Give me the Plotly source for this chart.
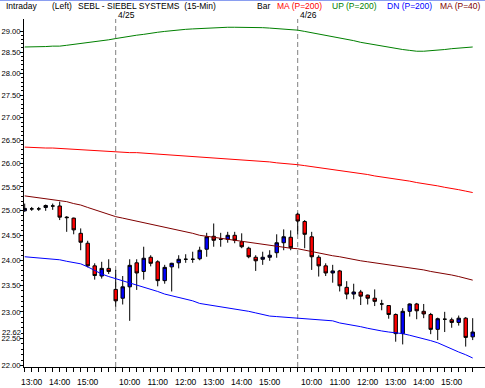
import math
import plotly.graph_objects as go

# ---------------- data ----------------
session = [f"{h:02d}:{m:02d}" for h in range(9, 16) for m in (0, 15, 30, 45)][2:]  # 09:30 .. 15:45
day_names = ["4/24", "4/25", "4/26"]
bar_times = session[-13:] + session + session
bar_days = [day_names[0]] * 13 + [day_names[1]] * 26 + [day_names[2]] * 26

opens = [25.00, 25.04, 25.04, 25.07, 25.10, 25.10, 24.87, 24.85, 24.54, 24.34, 23.89, 23.69, 23.84,
         23.43, 23.26, 23.48, 23.95, 23.78, 24.06, 23.97, 23.60, 23.87, 23.95, 24.02, 24.02, 24.03,
         24.22, 24.48, 24.42, 24.42, 24.50, 24.37, 24.24, 24.06, 24.02, 24.06, 24.15, 24.35, 24.46,
         24.93, 24.78, 24.47, 24.06, 23.89, 23.75, 23.79, 23.47, 23.34, 23.38, 23.32, 23.26, 23.15,
         23.12, 22.95, 22.59, 23.01, 23.15, 23.01, 22.95, 22.67, 22.86, 22.85, 22.80, 22.88, 22.53]
highs = [25.15, 25.08, 25.08, 25.13, 25.15, 25.19, 24.89, 24.86, 24.64, 24.39, 23.94, 23.97, 24.02,
         23.81, 23.69, 24.02, 24.02, 24.27, 24.10, 24.00, 23.91, 23.95, 24.10, 24.12, 24.17, 24.27,
         24.55, 24.74, 24.55, 24.57, 24.57, 24.54, 24.27, 24.10, 24.17, 24.20, 24.52, 24.62, 24.60,
         24.96, 24.81, 24.57, 24.10, 23.94, 23.91, 23.81, 23.59, 23.54, 23.42, 23.33, 23.43, 23.23,
         23.13, 22.97, 23.07, 23.16, 23.17, 23.15, 22.98, 22.89, 23.00, 22.89, 22.93, 22.90, 22.88]
lows = [24.98, 25.00, 25.00, 25.00, 25.02, 24.81, 24.57, 24.52, 24.20, 23.86, 23.62, 23.64, 23.73,
        23.10, 23.14, 22.83, 23.42, 23.62, 23.88, 23.49, 23.54, 23.39, 23.84, 23.95, 23.95, 24.00,
        24.07, 24.27, 24.27, 24.35, 24.34, 24.24, 24.04, 23.79, 23.91, 23.99, 24.05, 24.20, 24.20,
        24.52, 24.24, 23.81, 23.68, 23.69, 23.56, 23.39, 23.24, 23.24, 23.13, 23.14, 23.11, 23.03,
        22.87, 22.44, 22.39, 22.91, 22.86, 22.88, 22.58, 22.47, 22.62, 22.70, 22.74, 22.35, 22.47]
closes = [25.05, 25.04, 25.04, 25.11, 25.10, 24.87, 24.86, 24.61, 24.36, 23.89, 23.70, 23.84, 23.78,
          23.21, 23.48, 23.90, 23.75, 24.04, 23.94, 23.60, 23.86, 23.94, 24.02, 24.02, 24.02, 24.20,
          24.47, 24.40, 24.42, 24.50, 24.40, 24.27, 24.07, 23.99, 24.06, 24.10, 24.35, 24.47, 24.25,
          24.79, 24.52, 24.07, 23.89, 23.75, 23.79, 23.50, 23.34, 23.38, 23.30, 23.26, 23.20, 23.15,
          22.95, 22.59, 23.01, 23.15, 23.02, 22.96, 22.67, 22.87, 22.86, 22.80, 22.88, 22.52, 22.62]

ma200 = [26.35, 26.34, 26.34, 26.33, 26.33, 26.32, 26.31, 26.30, 26.30, 26.29, 26.28, 26.27, 26.26,
         26.25, 26.24, 26.23, 26.23, 26.22, 26.21, 26.20, 26.19, 26.18, 26.17, 26.16, 26.15, 26.14,
         26.13, 26.12, 26.11, 26.10, 26.09, 26.08, 26.07, 26.05, 26.04, 26.03, 26.01, 26.00, 25.98,
         25.97, 25.95, 25.93, 25.91, 25.89, 25.87, 25.85, 25.82, 25.80, 25.78, 25.76, 25.73, 25.71,
         25.69, 25.66, 25.64, 25.62, 25.59, 25.57, 25.54, 25.52, 25.49, 25.47, 25.44, 25.41, 25.38]
up200 = [28.62, 28.62, 28.63, 28.63, 28.64, 28.64, 28.66, 28.68, 28.70, 28.72, 28.74, 28.76, 28.79,
         28.82, 28.85, 28.87, 28.90, 28.92, 28.95, 28.97, 28.99, 29.01, 29.02, 29.04, 29.05, 29.06,
         29.07, 29.08, 29.08, 29.09, 29.09, 29.09, 29.09, 29.08, 29.08, 29.07, 29.06, 29.05, 29.04,
         29.02, 28.99, 28.96, 28.93, 28.90, 28.87, 28.84, 28.80, 28.77, 28.73, 28.70, 28.67, 28.64,
         28.61, 28.58, 28.56, 28.54, 28.52, 28.52, 28.53, 28.55, 28.56, 28.58, 28.59, 28.60, 28.62]
dn200 = [24.07, 24.06, 24.05, 24.04, 24.03, 24.01, 23.98, 23.96, 23.93, 23.87, 23.80, 23.73, 23.68,
         23.64, 23.60, 23.56, 23.52, 23.48, 23.43, 23.39, 23.34, 23.31, 23.28, 23.25, 23.21, 23.16,
         23.14, 23.12, 23.10, 23.07, 23.05, 23.03, 23.01, 22.98, 22.95, 22.92, 22.91, 22.90, 22.89,
         22.88, 22.87, 22.86, 22.86, 22.85, 22.83, 22.79, 22.77, 22.75, 22.72, 22.69, 22.66, 22.64,
         22.62, 22.61, 22.59, 22.56, 22.53, 22.50, 22.46, 22.42, 22.36, 22.31, 22.25, 22.20, 22.14]
ma40 = [25.31, 25.29, 25.27, 25.25, 25.23, 25.21, 25.19, 25.15, 25.12, 25.07, 25.02, 24.98, 24.93,
        24.88, 24.85, 24.82, 24.79, 24.76, 24.73, 24.70, 24.67, 24.64, 24.61, 24.58, 24.54, 24.50,
        24.48, 24.46, 24.44, 24.42, 24.40, 24.38, 24.35, 24.33, 24.31, 24.29, 24.27, 24.25, 24.24,
        24.23, 24.20, 24.17, 24.15, 24.12, 24.09, 24.07, 24.04, 24.01, 23.99, 23.97, 23.95, 23.93,
        23.91, 23.89, 23.87, 23.86, 23.84, 23.81, 23.78, 23.76, 23.74, 23.71, 23.68, 23.65, 23.61]

price_ticks = [22.0, 22.5, 23.0, 23.5, 24.0, 24.5, 25.0, 25.5, 26.0, 26.5, 27.0, 27.5, 28.0, 28.5, 29.0]
minor_ticks = [round(22.0 + 0.1 * k, 1) for k in range(71)]
last_price = 22.62

title_parts = [("Intraday", "#000000"), ("(Left)", "#000000"),
               ("SEBL - SIEBEL SYSTEMS&nbsp;&nbsp;(15-Min)", "#000000"), ("Bar", "#000000"),
               ("MA (P=200)", "#ff0000"), ("UP (P=200)", "#008000"),
               ("DN (P=200)", "#0000ff"), ("MA (P=40)", "#800000")]
title_px = [4, 50, 76, 255, 275, 330, 385, 438]

# ---------------- figure ----------------
W, H = 485, 388
ML, MR, MT, MB = 24, 0, 19, 21
PW, PH = W - ML - MR, H - MT - MB
FONT = "Liberation Sans, Arial, sans-serif"
FS = 8.5
FSY = 7.6

x = list(range(len(bar_times)))

fig = go.Figure()
for vals, col in [(up200, "#008000"), (ma200, "#ff0000"), (ma40, "#800000"), (dn200, "#0000ff")]:
    fig.add_trace(go.Scatter(x=x, y=vals, mode="lines", line=dict(color=col, width=1),
                             hoverinfo="skip", showlegend=False))

fig.add_trace(go.Candlestick(
    x=x, open=opens, high=highs, low=lows, close=closes,
    increasing=dict(fillcolor="#0000ff", line=dict(color="#000000", width=1)),
    decreasing=dict(fillcolor="#ff0000", line=dict(color="#000000", width=1)),
    whiskerwidth=0, showlegend=False))

# day separators + date labels
for i in range(1, len(x)):
    if bar_days[i] != bar_days[i - 1]:
        fig.add_shape(type="line", xref="x", yref="paper", x0=i, x1=i, y0=0, y1=1,
                      line=dict(color="#808080", width=1, dash="5px,3px"), layer="below")
        fig.add_annotation(x=i, xref="x", y=(H - MB - 15) / PH, yref="paper", text=bar_days[i],
                           showarrow=False, xanchor="left", yanchor="middle", xshift=0,
                           font=dict(family=FONT, size=FS, color="#000000"))

# header texts
for (txt, col), px in zip(title_parts, title_px):
    fig.add_annotation(x=(px - ML) / PW, xref="paper", y=(H - MB - 6) / PH, yref="paper",
                       text=txt, showarrow=False, xanchor="left", yanchor="middle",
                       font=dict(family=FONT, size=FS, color=col))

# last price label
fig.add_annotation(x=0, xref="paper", y=math.log10(last_price), yref="y", text=f"{last_price:.2f}",
                   showarrow=False, xanchor="right", yanchor="middle", xshift=-1,
                   font=dict(family=FONT, size=FSY, color="#000000"))

# top border
fig.add_shape(type="line", xref="paper", yref="paper", x0=-ML / PW, x1=1 + MR / PW,
              y0=(H - MB - 0.5) / PH, y1=(H - MB - 0.5) / PH, line=dict(color="#8a9ef0", width=1))

tick_idx = [i for i, t in enumerate(bar_times) if t.endswith(":00")]
px_per_bar = 7.0
x_lo = -0.7 / px_per_bar
x_hi = x_lo + PW / px_per_bar

y_lo = math.log10(22.0) - 1.3 / 2789.7
y_hi = y_lo + PH / 2789.7

fig.update_layout(
    width=W, height=H, margin=dict(l=ML, r=MR, t=MT, b=MB, pad=0, autoexpand=False),
    paper_bgcolor="white", plot_bgcolor="white",
    font=dict(family=FONT, size=FS, color="#000000"),
    showlegend=False,
    xaxis=dict(range=[x_lo, x_hi], rangeslider=dict(visible=False), showgrid=False, zeroline=False,
               showline=True, linecolor="#000000", linewidth=1, automargin=False,
               tickmode="array", tickvals=tick_idx, ticktext=[bar_times[i] for i in tick_idx],
               ticks="outside", ticklen=4, tickcolor="#000000", tickwidth=1,
               minor=dict(tickmode="array", tickvals=x, ticks="outside", ticklen=4,
                          tickcolor="#000000", tickwidth=1),
               tickfont=dict(family=FONT, size=FS, color="#000000"), ticklabelstandoff=3),
    yaxis=dict(type="log", range=[y_lo, y_hi], showgrid=False, zeroline=False,
               showline=True, linecolor="#000000", linewidth=1, automargin=False,
               tickmode="array", tickvals=price_ticks, ticktext=[f"{v:.2f}" for v in price_ticks],
               ticks="outside", ticklen=3, tickcolor="#000000", tickwidth=1,
               minor=dict(tickmode="array", tickvals=minor_ticks, ticks="outside", ticklen=2,
                          tickcolor="#000000", tickwidth=1),
               tickfont=dict(family=FONT, size=FSY, color="#000000"), ticklabelstandoff=-2),
)

fig.write_html("out.html", config={"displayModeBar": False},
               post_script="document.body.style.margin='0';document.body.style.padding='0';")
